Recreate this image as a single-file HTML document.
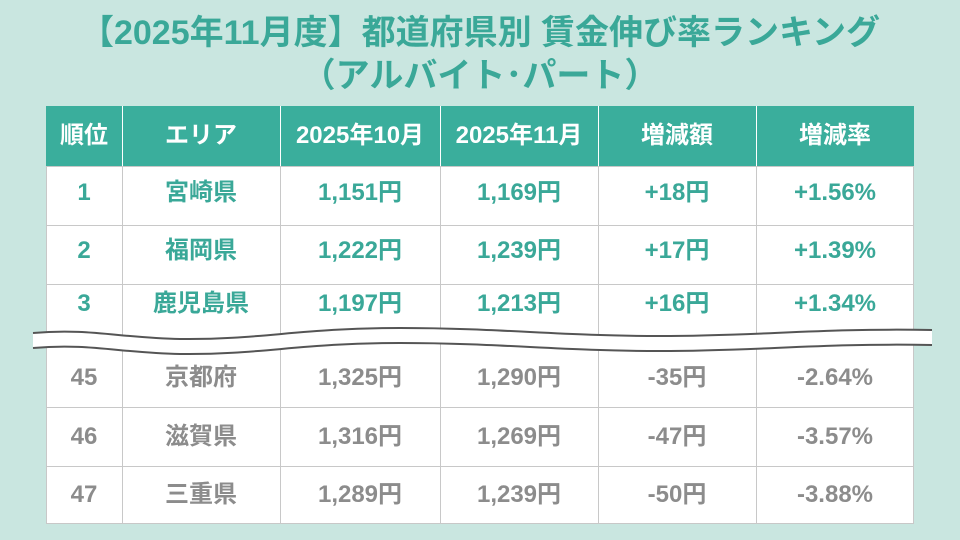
<!DOCTYPE html>
<html><head><meta charset="utf-8"><style>
body{margin:0;width:960px;height:540px;background:#c9e6e0;position:relative;overflow:hidden;font-family:"Liberation Sans","Noto Sans CJK JP",sans-serif;}
.t{position:absolute;left:0;width:960px;text-align:center;color:#3aa898;font-weight:bold;font-size:34px;line-height:40px;}
.c{position:absolute;display:flex;align-items:center;justify-content:center;font-weight:bold;font-size:24px;line-height:1;box-sizing:border-box;}
</style></head><body>
<div class="t" style="top:13px">【2025年11月度】都道府県別 賃金伸び率ランキング</div>
<div class="t" style="top:56px">（アルバイト･パート）</div>
<svg width="960" height="540" style="position:absolute;left:0;top:0">
<rect x="46" y="106" width="868" height="418" fill="#fff"/>
<rect x="46" y="106" width="868" height="60" fill="#3aae9c"/>
<g stroke="#fff" stroke-width="1"><line x1="122.5" y1="106" x2="122.5" y2="166"/><line x1="280.5" y1="106" x2="280.5" y2="166"/><line x1="440.5" y1="106" x2="440.5" y2="166"/><line x1="598.5" y1="106" x2="598.5" y2="166"/><line x1="756.5" y1="106" x2="756.5" y2="166"/></g>
<g stroke="#c8c8c8" stroke-width="1" fill="none">
<rect x="46.5" y="166.5" width="867" height="357"/>
<line x1="46" y1="225.5" x2="914" y2="225.5"/><line x1="46" y1="284.5" x2="914" y2="284.5"/>
<line x1="46" y1="407.5" x2="914" y2="407.5"/><line x1="46" y1="466.5" x2="914" y2="466.5"/>
<line x1="122.5" y1="166" x2="122.5" y2="524"/><line x1="280.5" y1="166" x2="280.5" y2="524"/><line x1="440.5" y1="166" x2="440.5" y2="524"/><line x1="598.5" y1="166" x2="598.5" y2="524"/><line x1="756.5" y1="166" x2="756.5" y2="524"/>
</g>
<path d="M33 333 C90 328 120 338 180 339 C260 340 300 328 400 328 C500 328 560 336 660 336 C760 336 820 328 932 330 L932 345 C820 343 760 351 660 351 C560 351 500 343 400 343 C300 343 260 355 180 354 C120 353 90 343 33 348 Z" fill="#fff"/>
<path d="M33 333 C90 328 120 338 180 339 C260 340 300 328 400 328 C500 328 560 336 660 336 C760 336 820 328 932 330" fill="none" stroke="#555" stroke-width="2"/>
<path d="M33 348 C90 343 120 353 180 354 C260 355 300 343 400 343 C500 343 560 351 660 351 C760 351 820 343 932 345" fill="none" stroke="#555" stroke-width="2"/>
</svg>
<div id="cells"></div>
<script>
const xs=[46,122,280,440,598,756,914];
const rows=[
[136,'#fff',['順位','エリア','2025年10月','2025年11月','増減額','増減率']],
[193,'#3aa898',['1','宮崎県','1,151円','1,169円','+18円','+1.56%']],
[251,'#3aa898',['2','福岡県','1,222円','1,239円','+17円','+1.39%']],
[304,'#3aa898',['3','鹿児島県','1,197円','1,213円','+16円','+1.34%']],
[378,'#8c8c8c',['45','京都府','1,325円','1,290円','-35円','-2.64%']],
[437,'#8c8c8c',['46','滋賀県','1,316円','1,269円','-47円','-3.57%']],
[495,'#8c8c8c',['47','三重県','1,289円','1,239円','-50円','-3.88%']]];
let h='';
rows.forEach(([y,c,v])=>v.forEach((t,i)=>{h+=`<div class="c" style="left:${xs[i]}px;width:${xs[i+1]-xs[i]}px;top:${y-15}px;height:30px;color:${c}">${t}</div>`;}));
document.getElementById('cells').innerHTML=h;
</script>
</body></html>
